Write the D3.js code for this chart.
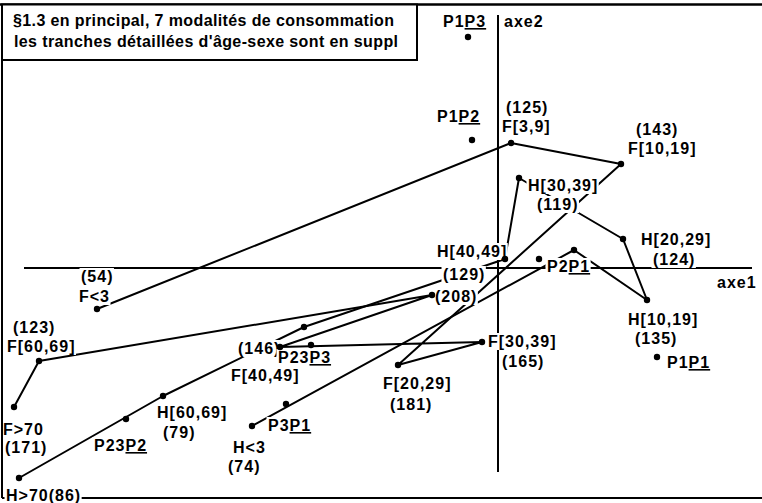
<!DOCTYPE html>
<html><head><meta charset="utf-8">
<script src="https://cdn.jsdelivr.net/npm/d3@7"></script>
<style>
html,body{margin:0;padding:0;background:#fff;}
svg{display:block;}
text{font-family:"Liberation Sans",Arial,sans-serif;font-weight:bold;font-size:16px;fill:#000;}
</style></head><body>
<svg id="c" width="762" height="503"></svg>
<script>
// ---- data ----
const titleLines = ["§1.3 en principal, 7 modalités de consommation", "les tranches détaillées d'âge-sexe sont en suppl"];
const axisNames = ["axe1", "axe2"];

const femaleCategories = ["F<3","F[3,9]","F[10,19]","F[20,29]","F[30,39]","F[40,49]","F[50,59]","F[60,69]","F>70"];
const femaleAxis1 = [-0.802, 0.026, 0.246, -0.200, -0.032, -0.436, -0.132, -0.918, -0.968];
const femaleAxis2 = [-0.082, 0.250, 0.208, -0.194, -0.148, -0.158, -0.054, -0.186, -0.278];
const femaleCounts = [54, 125, 143, 181, 165, 146, 208, 123, 171];

const maleCategories = ["H<3","H[3,9]","H[10,19]","H[20,29]","H[30,39]","H[40,49]","H[50,59]","H[60,69]","H>70"];
const maleAxis1 = [-0.492, 0.152, 0.298, 0.250, 0.042, 0.014, -0.388, -0.670, -0.958];
const maleAxis2 = [-0.316, 0.036, -0.064, 0.058, 0.180, 0.018, -0.118, -0.256, -0.420];
const maleCounts = [74, null, 135, 124, 119, 129, null, 79, 86];

const suppNames = ["P1P1","P1P2","P1P3","P2P1","P23P2","P23P3","P3P1"];
const suppAxis1 = [0.318, -0.052, -0.060, 0.082, -0.744, -0.374, -0.424];
const suppAxis2 = [-0.178, 0.256, 0.462, 0.018, -0.302, -0.154, -0.272];

// ---- label placement (pixel offsets from the point) ----
const labelLayout = {
  "F<3": [["c",-16,-27],["n",-18,-7]],
  "F[3,9]": [["c",-5,-30],["n",-9,-11]],
  "F[10,19]": [["c",15,-29],["n",7,-10]],
  "F[20,29]": [["n",-15,24],["c",-8,45]],
  "F[30,39]": [["n",6,5],["c",20,25]],
  "F[40,49]": [["c",-42,7],["n",-49,34]],
  "F[50,59]": [["c",3,7]],
  "F[60,69]": [["c",-26,-28],["n",-32,-9]],
  "F>70": [["n",-11,28],["c",-9,46]],
  "H<3": [["n",-19,27],["c",-24,46]],
  "H[10,19]": [["n",-19,25],["c",-12,44]],
  "H[20,29]": [["n",18,6],["c",30,26]],
  "H[30,39]": [["n",9,13],["c",18,32]],
  "H[40,49]": [["n",-68,-2],["c",-62,21]],
  "H[60,69]": [["n",-6,22],["c",0,42]],
  "H>70": [["nc",-13,23]]
};
const suppLayout = {
  "P1P1": [10,11], "P1P2": [-35,-18], "P1P3": [-25,-10], "P2P1": [8,13],
  "P23P2": [-32,32], "P23P3": [-33,18], "P3P1": [-18,27]
};

// ---- scales ----
const x = d3.scaleLinear().domain([-1, 0.5]).range([-2, 748]);
const y = d3.scaleLinear().domain([-0.5, 0.5]).range([518, 18]);

const svg = d3.select("#c");
const gBase = svg.append("g");
const gLines = svg.append("g");
const gLabels = svg.append("g");
const gDots = svg.append("g");
const gTop = svg.append("g");

// frame
gBase.append("line").attr("x1",0).attr("x2",762).attr("y1",4.5).attr("y2",4.5).attr("stroke","#000").attr("stroke-width",2.5);
gBase.append("line").attr("x1",2).attr("x2",762).attr("y1",498).attr("y2",498).attr("stroke","#000").attr("stroke-width",2);
gTop.append("line").attr("x1",2).attr("x2",2).attr("y1",4).attr("y2",498).attr("stroke","#000").attr("stroke-width",2);

// axes
gBase.append("line").attr("x1",24).attr("x2",752).attr("y1",y(0)).attr("y2",y(0)).attr("stroke","#000").attr("stroke-width",2);
gBase.append("line").attr("x1",x(0)).attr("x2",x(0)).attr("y1",15).attr("y2",472).attr("stroke","#000").attr("stroke-width",2);
gBase.append("text").attr("x",717).attr("y",288).style("letter-spacing","1px").text(axisNames[0]);
gBase.append("text").attr("x",504).attr("y",27).style("letter-spacing","1px").text(axisNames[1]);

// title box
gTop.append("rect").attr("x",2).attr("y",4.5).attr("width",415).attr("height",55.5).attr("fill","#fff").attr("stroke","#000").attr("stroke-width",2);
gTop.append("text").attr("x",13).attr("y",26).attr("textLength",381).attr("lengthAdjust","spacing").text(titleLines[0]);
gTop.append("text").attr("x",14).attr("y",47).attr("textLength",384).attr("lengthAdjust","spacing").text(titleLines[1]);

// series
function build(cats, a1, a2, counts){
  return cats.map((c,i)=>({name:c, a1:a1[i], a2:a2[i], count:counts[i]}));
}
const female = build(femaleCategories, femaleAxis1, femaleAxis2, femaleCounts);
const male = build(maleCategories, maleAxis1, maleAxis2, maleCounts);
const supp = suppNames.map((n,i)=>({name:n, a1:suppAxis1[i], a2:suppAxis2[i]}));

const line = d3.line().x(d=>x(d.a1)).y(d=>y(d.a2));
[female, male].forEach(s=>{
  gLines.append("path").attr("d", line(s)).attr("fill","none").attr("stroke","#000").attr("stroke-width",2).attr("stroke-linejoin","round");
});

// labels with white knockout boxes
function addLabel(px, py, parts){
  const g = gLabels.append("g");
  const t = g.append("text").attr("x",px).attr("y",py).style("letter-spacing","1px");
  parts.forEach(p=>{
    const ts = t.append("tspan").text(p.t);
    if (p.u) ts.attr("text-decoration","underline");
  });
  const bb = t.node().getBBox();
  g.insert("rect","text").attr("x",bb.x-1.5).attr("y",bb.y).attr("width",bb.width+2).attr("height",bb.height).attr("fill","#fff");
}
[female, male].forEach(s=>{
  s.forEach(d=>{
    const lay = labelLayout[d.name];
    if (!lay) return;
    lay.forEach(([k,dx,dy])=>{
      const txt = k==="n" ? d.name : k==="c" ? "("+d.count+")" : d.name+"("+d.count+")";
      addLabel(x(d.a1)+dx, y(d.a2)+dy, [{t:txt}]);
    });
  });
});
supp.forEach(d=>{
  const [dx,dy] = suppLayout[d.name];
  const n = d.name;
  addLabel(x(d.a1)+dx, y(d.a2)+dy, [{t:n.slice(0,n.length-2)},{t:n.slice(n.length-2), u:true}]);
});

// dots
gDots.selectAll("circle").data(female.concat(male).concat(supp)).join("circle")
  .attr("cx",d=>x(d.a1)).attr("cy",d=>y(d.a2)).attr("r",3.2).attr("fill","#000");
</script>
</body></html>
